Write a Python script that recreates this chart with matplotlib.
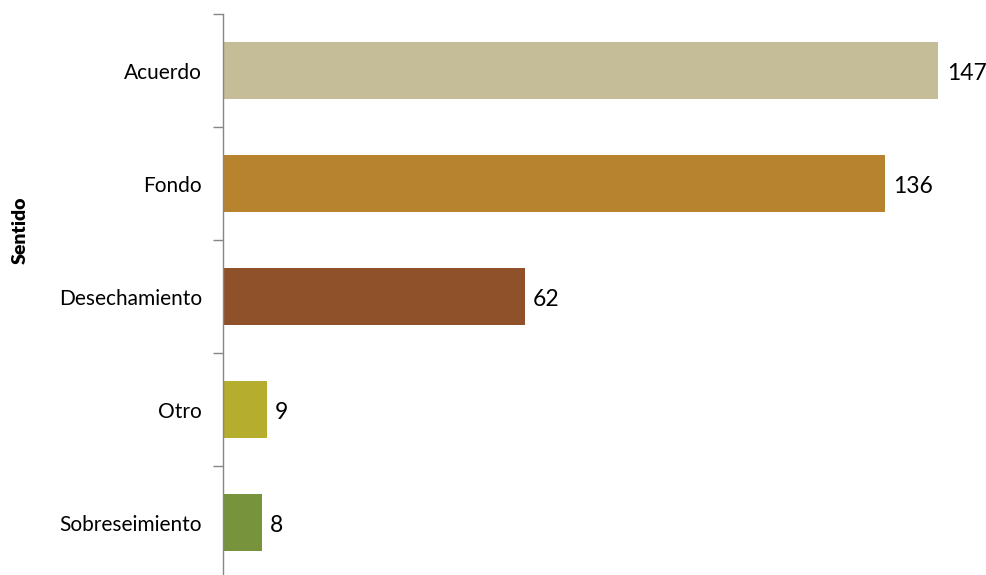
#!/usr/bin/env python3
# -*- coding: utf-8 -*-

import matplotlib
matplotlib.use("Agg")
import matplotlib.pyplot as plt

# -------------------------------------------------
# DATA
# -------------------------------------------------
categories = ["Acuerdo", "Fondo", "Desechamiento", "Otro", "Sobreseimiento"]
values = [147, 136, 62, 9, 8]
colors = ["#C4BD97", "#B7832F", "#8F5129", "#B5AD2E", "#77933C"]
axis_title = "Sentido"

# -------------------------------------------------
# VISUAL SETTINGS
# -------------------------------------------------
plt.rcParams.update({
    "font.family": ["Lato", "DejaVu Sans"],
    "text.color": "black",
})

W, H = 987, 575
fig = plt.figure(figsize=(W / 100, H / 100), dpi=100)

# axes area in pixels: left spine at x=223, top at y=14, bottom at y=579
left, top, bottom = 223, 14, 579
ax = fig.add_axes([left / W, 1 - bottom / H, (W - left) / W, (bottom - top) / H])

pos = list(range(len(categories)))
bars = ax.barh(pos, values, height=0.5, color=colors)

ax.set_xlim(0, 157)
ax.set_ylim(len(categories) - 0.5, -0.5)

# Value labels (sit a little below bar centre, like the original)
for y, v in zip(pos, values):
    ax.annotate(str(v), xy=(v, y), xytext=(6, -2.5), textcoords="offset points",
                va="center", ha="left", fontsize=16.5)

# Category labels at centres, tick marks at boundaries
ax.set_yticks(pos)
ax.set_yticklabels(categories, fontsize=15)
ax.tick_params(axis="y", which="major", length=0, pad=15)
ax.set_yticks([p - 0.5 for p in pos] + [len(pos) - 0.5], minor=True)
ax.tick_params(axis="y", which="minor", length=7, width=1, color="#868686")

ax.xaxis.set_visible(False)
for s in ["top", "right", "bottom"]:
    ax.spines[s].set_visible(False)
ax.spines["left"].set_color("#868686")
ax.spines["left"].set_linewidth(1)

fig.text(20 / W, 1 - 230 / H, axis_title, rotation=90, ha="center", va="center",
         fontsize=14, fontweight="heavy")

# -------------------------------------------------
# SAVE
# -------------------------------------------------
fig.savefig("out.png", dpi=100)
